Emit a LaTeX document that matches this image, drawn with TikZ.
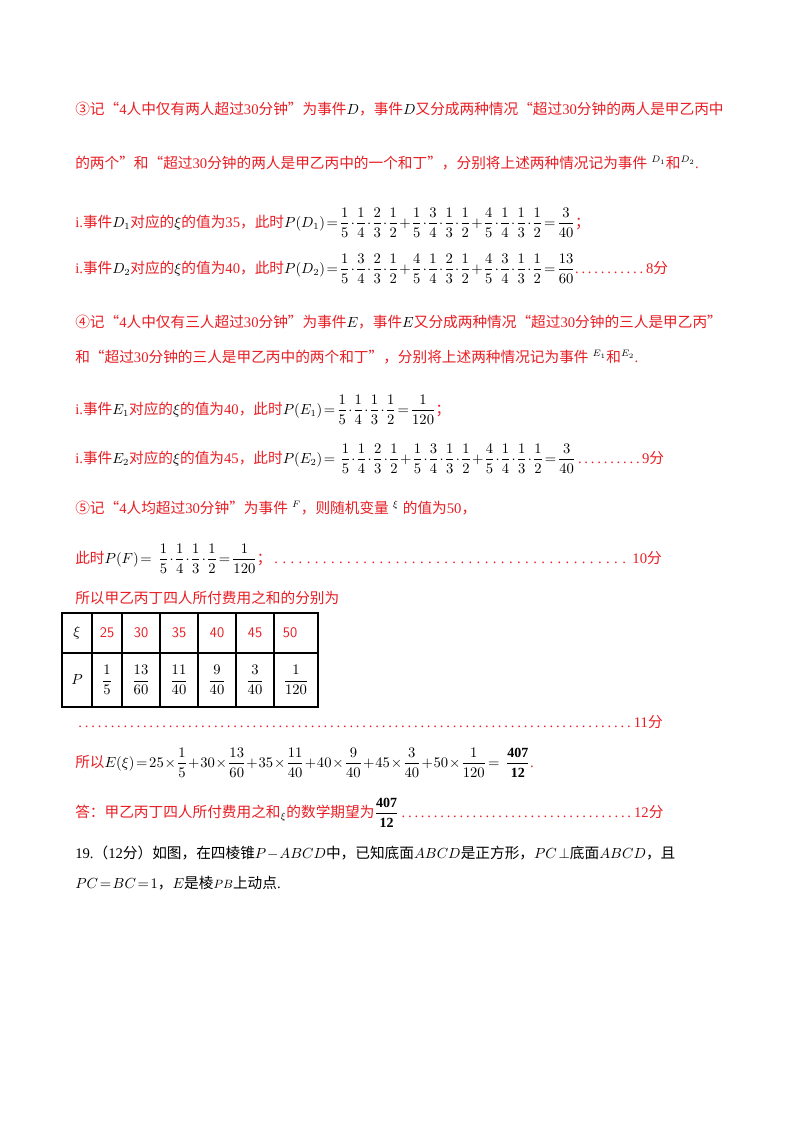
\documentclass[tikz,border=0pt]{standalone}
\usepackage{amsmath}
\usepackage{fontspec}
\usetikzlibrary{calc}
\setmainfont{Liberation Serif}
\newfontfamily\cjk{Noto Sans CJK SC}
\newcommand\Z[1]{{\cjk #1}}
\definecolor{hred}{RGB}{232,30,36}
\begin{document}
\begin{tikzpicture}[x=0.75pt,y=-0.75pt,
  ln/.style={anchor=base west,inner sep=0pt,font=\fontsize{11}{12}\selectfont,text=hred},
  bl/.style={anchor=base west,inner sep=0pt,font=\fontsize{11}{12}\selectfont,text=black},
  cell/.style={inner sep=0pt,font=\fontsize{10.5}{12}\selectfont}]
\useasboundingbox[fill=white] (0,0) rectangle (800,1132);
\newcommand\M[1]{\textcolor{black}{\fontsize{10.5}{12}\selectfont$\medmuskip=1mu\thickmuskip=2mu\thinmuskip=1mu #1$}}
\newcommand\f[2]{\dfrac{#1}{#2}}
\newcommand\lead[4]{\path let \p1=(#1.base east) in node[ln,anchor=base west] (#2) at (#1.base east) {\makebox[\dimexpr #3pt-\x1\relax]{#4}};}
\newcommand\df{\dotfill}
\newcommand\sdf{\xleaders\hbox to 6pt{\hss.\hss}\hfill}
\node[ln] (l1) at (75,114) {\Z{③记“}4\Z{人中仅有两人超过}30\Z{分钟”为事件}\M{D}\Z{，事件}\M{D}\Z{又分成两种情况“超过}30\Z{分钟的两人是甲乙丙中}};
\node[ln] (l2) at (75,168) {\Z{的两个”和“超过}30\Z{分钟的两人是甲乙丙中的一个和丁”，分别将上述两种情况记为事件}\;\M{^{D_1}}\Z{和}\M{^{D_2}}.};
\node[ln] (l3) at (75,227) {i.\Z{事件}\M{D_1}\Z{对应的}\M{\xi}\Z{的值为}35\Z{，此时}\M{P(D_1)=\f15\cdot\f14\cdot\f23\cdot\f12+\f15\cdot\f34\cdot\f13\cdot\f12+\f45\cdot\f14\cdot\f13\cdot\f12=\f3{40}}\Z{；}};
\node[ln] (l4) at (75,273) {i.\Z{事件}\M{D_2}\Z{对应的}\M{\xi}\Z{的值为}40\Z{，此时}\M{P(D_2)=\f15\cdot\f34\cdot\f23\cdot\f12+\f45\cdot\f14\cdot\f23\cdot\f12+\f45\cdot\f34\cdot\f13\cdot\f12=\f{13}{60}}.};
\lead{l4}{s8}{484}{\df}
\node[ln] (k8) at (s8.base east) {8\Z{分}};
\node[ln] (l5) at (75,327) {\Z{④记“}4\Z{人中仅有三人超过}30\Z{分钟”为事件}\M{E}\Z{，事件}\M{E}\Z{又分成两种情况“超过}30\Z{分钟的三人是甲乙丙”}};
\node[ln] (l6) at (75,362) {\Z{和“超过}30\Z{分钟的三人是甲乙丙中的两个和丁”，分别将上述两种情况记为事件}\;\M{^{E_1}}\Z{和}\M{^{E_2}}.};
\node[ln] (l7) at (75,414) {i.\Z{事件}\M{E_1}\Z{对应的}\M{\xi}\Z{的值为}40\Z{，此时}\M{P(E_1)=\f15\cdot\f14\cdot\f13\cdot\f12=\f1{120}}\Z{；}};
\node[ln] (l8) at (75,463) {i.\Z{事件}\M{E_2}\Z{对应的}\M{\xi}\Z{的值为}45\Z{，此时}\M{P(E_2)=\;\;\f15\cdot\f14\cdot\f23\cdot\f12+\f15\cdot\f34\cdot\f13\cdot\f12+\f45\cdot\f14\cdot\f13\cdot\f12=\f3{40}}\ };
\lead{l8}{s9}{481}{\df}
\node[ln] (k9) at (s9.base east) {9\Z{分}};
\node[ln] (l9) at (75,513) {\Z{⑤记“}4\Z{人均超过}30\Z{分钟”为事件}\;\M{^{F}}\Z{，则随机变量}\;\M{^{\xi}}\;\Z{的值为}50\Z{，}};
\node[ln] (l10) at (75,563) {\Z{此时}\M{P(F)=\;\;\;\f15\cdot\f14\cdot\f13\cdot\f12=\f1{120}}\Z{；}\ };
\lead{l10}{s10}{471}{\sdf}
\node[ln] (k10) at (s10.base east) {\ 10\Z{分}};
\node[ln] (l11) at (75,603) {\Z{所以甲乙丙丁四人所付费用之和的分别为}};
\draw[line width=0.9pt] (62,613) rectangle (318,707);
\draw[line width=0.9pt] (62,653) -- (318,653);
\foreach \x in {92,122,160,198,236,274} \draw[line width=0.9pt] (\x,613) -- (\x,707);
\node[cell] (t0) at (77,633) {$\xi$};
\node[cell] (p0) at (77,680) {$P$};
\foreach \v/\a in {25/107,30/141,35/179,40/217,45/255,50/290}
  \node[cell,text=hred,font=\fontsize{11}{12}\selectfont\sffamily] at (\a,633) {\v};
\node[cell] (q1) at (107,680) {$\f15$};
\node[cell] (q2) at (141,680) {$\f{13}{60}$};
\node[cell] (q3) at (179,680) {$\f{11}{40}$};
\node[cell] (q4) at (217,680) {$\f{9}{40}$};
\node[cell] (q5) at (255,680) {$\f{3}{40}$};
\node[cell] (q6) at (296,680) {$\f{1}{120}$};
\coordinate (c11) at (75,727);
\node[ln] (s11) at (c11) {\makebox[419pt]{\df}11\Z{分}};
\node[ln] (l13) at (75,767) {\Z{所以}\M{E(\xi)=25\times\f15+30\times\f{13}{60}+35\times\f{11}{40}+40\times\f{9}{40}+45\times\f{3}{40}+50\times\f{1}{120}=\;\;\;\f{\mathbf{407}}{\mathbf{12}}}.};
\node[ln] (l14) at (75,817) {\Z{答：甲乙丙丁四人所付费用之和}\M{_{\xi}}\Z{的数学期望为}\M{\f{\mathbf{407}}{\mathbf{12}}}\ };
\lead{l14}{s12}{475}{\df}
\node[ln] (k12) at (s12.base east) {12\Z{分}};
\node[bl] (l15) at (75,858) {19.\Z{（}12\Z{分）如图，在四棱锥}\M{P-ABCD}\Z{中，已知底面}\M{ABCD}\Z{是正方形，}\M{PC\perp}\Z{底面}\M{ABCD}\Z{，且}};
\node[bl] (l16) at (75,888) {\M{PC=BC=1}\Z{，}\M{E}\Z{是棱}{\small$PB$}\Z{上动点}.};
\end{tikzpicture}
\end{document}
